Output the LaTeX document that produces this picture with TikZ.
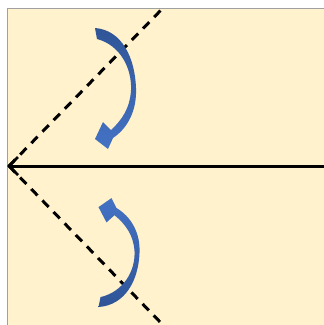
\documentclass[tikz,border=0pt]{standalone}
\definecolor{bgyellow}{RGB}{255,242,204}
\definecolor{arrblue}{RGB}{68,114,196}
\definecolor{arrdark}{RGB}{47,85,151}
\definecolor{framegray}{RGB}{160,160,160}
\tikzset{
  dashline/.style={line width=3pt, dash pattern=on 9pt off 7pt},
  axisline/.style={line width=3pt},
  tipline/.style={line width=2.6pt, line join=miter},
  bluearrow/.style={top color=arrdark, bottom color=arrblue, draw=none},
}
\newcommand{\crescentarrow}{%
  (95,28) -- (97,39)
  .. controls (120,45) and (132,68) .. (131,90)
  .. controls (130,108) and (122,120) .. (111,130)
  -- (103,122) -- (95,139) -- (108,149) -- (113,138)
  .. controls (128,128) and (137,110) .. (136,88)
  .. controls (135,58) and (122,30) .. (95,28) -- cycle}
\begin{document}
\begin{tikzpicture}[x=1pt,y=-1pt]
\useasboundingbox (0,0) rectangle (324,325);
\fill[white] (0,0) rectangle (324,325);
\fill[bgyellow] (7,8) rectangle (324,325);
\draw[framegray, line width=0.8pt] (7,325) -- (7,8) -- (324,8);
\coordinate (apex) at (9,166);
\coordinate (right) at (324,166);
\coordinate (topend) at (163,8);
\coordinate (botend) at (163,325);
\coordinate (barbup) at (18,157);
\coordinate (barbdown) at (18,175);
\draw[dashline] (apex) -- (topend);
\draw[dashline] (apex) -- (botend);
\draw[axisline] (right) -- (apex);
\draw[tipline] (barbup) -- (apex) -- (barbdown);
\shade[bluearrow] \crescentarrow;
\begin{scope}[shift={(3.5,332.2)}, yscale=-0.9]
\shade[top color=arrblue, bottom color=arrdark, draw=none] \crescentarrow;
\end{scope}
\end{tikzpicture}
\end{document}
